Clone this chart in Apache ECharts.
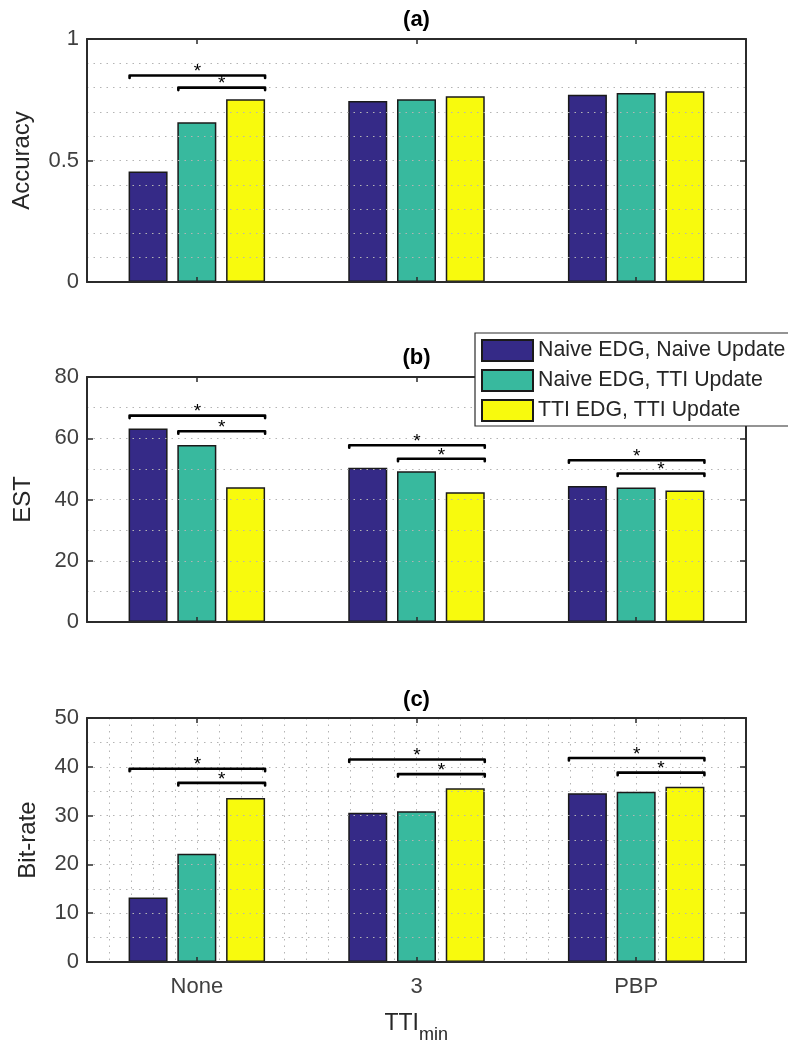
<!DOCTYPE html>
<html>
<head>
<meta charset="utf-8">
<script src="https://cdn.jsdelivr.net/npm/echarts@6/dist/echarts.min.js"></script>
<style>
  html, body { margin: 0; padding: 0; background: #ffffff; }
  #chart { width: 788px; height: 1044px; }
</style>
</head>
<body>
<div id="chart"></div>
<script>
// ---- data ----
const categories = ['None', '3', 'PBP'];
const seriesNames = ['Naive EDG, Naive Update', 'Naive EDG, TTI Update', 'TTI EDG, TTI Update'];

// (a) Accuracy
const accNaiveNaive = [0.455, 0.745, 0.771];
const accNaiveTTI   = [0.657, 0.752, 0.778];
const accTTITTI     = [0.752, 0.764, 0.785];
// (b) EST
const estNaiveNaive = [63.2, 50.4, 44.4];
const estNaiveTTI   = [57.8, 49.2, 43.9];
const estTTITTI     = [44.0, 42.4, 42.9];
// (c) Bit-rate
const bitNaiveNaive = [13.2, 30.6, 34.6];
const bitNaiveTTI   = [22.2, 30.9, 34.9];
const bitTTITTI     = [33.6, 35.6, 35.9];

// significance brackets: [group, fromBar, toBar, level]
const accSig = [[0, 0, 2, 0.85], [0, 1, 2, 0.80]];
const estSig = [[0, 0, 2, 67.4], [0, 1, 2, 62.3], [1, 0, 2, 57.7], [1, 1, 2, 53.3], [2, 0, 2, 52.8], [2, 1, 2, 48.5]];
const bitSig = [[0, 0, 2, 39.6], [0, 1, 2, 36.7], [1, 0, 2, 41.5], [1, 1, 2, 38.5], [2, 0, 2, 41.8], [2, 1, 2, 38.8]];

// y-axis tick labels
const accTicks = [0, 0.5, 1];
const estTicks = [0, 20, 40, 60, 80];
const bitTicks = [0, 10, 20, 30, 40, 50];

// ---- styling ----
const COLORS = ['#352a87', '#38b99e', '#f8fa0d'];
const FONT = '"Liberation Sans", Arial, Helvetica, sans-serif';
const AXIS_COLOR = '#2b2b2b';
const LABEL_COLOR = '#404040';
const BAR_W = 39;
const BAR_GAP = 0.25;
const DOT = { type: [1.5, 5], color: '#b4b4b4', width: 1 };

const panels = [
  { name: 'Accuracy', ticks: accTicks, split: 5, data: [accNaiveNaive, accNaiveTTI, accTTITTI], sig: accSig,
    grid: { left: 87, top: 39, width: 659, height: 243 }, nameGap: 53, xLabels: false, xGrid: false },
  { name: 'EST', ticks: estTicks, split: 2, data: [estNaiveNaive, estNaiveTTI, estTTITTI], sig: estSig,
    grid: { left: 87, top: 377, width: 659, height: 245 }, nameGap: 52, xLabels: false, xGrid: false },
  { name: 'Bit-rate', ticks: bitTicks, split: 2, data: [bitNaiveNaive, bitNaiveTTI, bitTTITTI], sig: bitSig,
    grid: { left: 87, top: 718, width: 659, height: 244 }, nameGap: 47, xLabels: true, xGrid: true }
];

// bracket with a star, spanning from the left edge of one bar to the right edge of another
function bracketItem(params, api) {
  const g = api.value(0), from = api.value(1), to = api.value(2), level = api.value(3);
  const c = api.coord([g, level]);
  const step = BAR_W * (1 + BAR_GAP);
  const x0 = c[0] + (from - 1) * step - BAR_W / 2 + 1;
  const x1 = c[0] + (to - 1) * step + BAR_W / 2;
  const y = c[1];
  return {
    type: 'group',
    children: [
      { type: 'polyline',
        shape: { points: [[x0, y + 2.5], [x0, y], [x1, y], [x1, y + 2.5]] },
        style: { stroke: '#000', lineWidth: 2.6, fill: null, lineJoin: 'round', lineCap: 'round' } },
      { type: 'text',
        style: { text: '*', x: (x0 + x1) / 2, y: y - 13, align: 'center', verticalAlign: 'top',
                 fontSize: 19, fill: '#000', fontFamily: FONT } }
    ]
  };
}

const grid = [], xAxis = [], yAxis = [], series = [];
panels.forEach((p, i) => {
  grid.push(Object.assign({ containLabel: false }, p.grid));
  const maxV = p.ticks[p.ticks.length - 1];
  const step = p.ticks[1] - p.ticks[0];

  // bottom category axis
  const xb = xAxis.length;
  xAxis.push({
    type: 'category', gridIndex: i, data: categories, position: 'bottom',
    axisLine: { onZero: false, lineStyle: { color: AXIS_COLOR, width: 2 } },
    axisTick: { show: true, inside: true, length: 5, alignWithLabel: true, lineStyle: { color: AXIS_COLOR, width: 1.5 } },
    axisLabel: { show: p.xLabels, fontSize: 22, color: LABEL_COLOR, margin: 14, fontFamily: FONT },
    splitLine: { show: false }, z: 3
  });
  // top category axis (box edge)
  xAxis.push({
    type: 'category', gridIndex: i, data: categories, position: 'top',
    axisLine: { onZero: false, lineStyle: { color: AXIS_COLOR, width: 2 } },
    axisTick: { show: true, inside: true, length: 5, alignWithLabel: true, lineStyle: { color: AXIS_COLOR, width: 1.5 } },
    axisLabel: { show: false }, splitLine: { show: false }, z: 3
  });
  if (p.xGrid) {
    // hidden value axis carrying the vertical minor grid
    xAxis.push({
      type: 'value', gridIndex: i, min: -0.5, max: 2.5, interval: 0.1, position: 'bottom',
      axisLine: { show: false, onZero: false }, axisTick: { show: false }, axisLabel: { show: false },
      splitLine: { show: true, lineStyle: DOT }
    });
  }

  const yl = yAxis.length;
  yAxis.push({
    type: 'value', gridIndex: i, min: 0, max: maxV, interval: step, position: 'left',
    name: p.name, nameLocation: 'middle', nameGap: p.nameGap,
    nameTextStyle: { fontSize: 24, color: '#262626', fontFamily: FONT },
    axisLine: { show: true, onZero: false, lineStyle: { color: AXIS_COLOR, width: 2 } },
    axisTick: { show: true, inside: true, length: 6, lineStyle: { color: AXIS_COLOR, width: 1.5 } },
    axisLabel: { fontSize: 22, color: LABEL_COLOR, margin: 8, fontFamily: FONT,
                 formatter: v => String(v) },
    splitLine: { show: true, lineStyle: DOT },
    minorTick: { show: false, splitNumber: p.split },
    minorSplitLine: { show: true, lineStyle: DOT },
    z: 3
  });
  yAxis.push({
    type: 'value', gridIndex: i, min: 0, max: maxV, interval: step, position: 'right',
    axisLine: { show: true, onZero: false, lineStyle: { color: AXIS_COLOR, width: 2 } },
    axisTick: { show: true, inside: true, length: 6, lineStyle: { color: AXIS_COLOR, width: 1.5 } },
    axisLabel: { show: false }, splitLine: { show: false }, z: 3
  });

  p.data.forEach((vals, k) => {
    series.push({
      type: 'bar', name: seriesNames[k], xAxisIndex: xb, yAxisIndex: yl,
      data: vals, barWidth: BAR_W, barGap: (BAR_GAP * 100) + '%',
      itemStyle: { color: COLORS[k], borderColor: '#1a1a1a', borderWidth: 1.5 },
      emphasis: { disabled: true }, z: 2
    });
  });

  series.push({
    type: 'custom', xAxisIndex: xb, yAxisIndex: yl, data: p.sig,
    encode: { x: 0, y: 3 }, renderItem: bracketItem, clip: false, z: 5, silent: true
  });
});

const chart = echarts.init(document.getElementById('chart'), null, { renderer: 'canvas' });
chart.setOption({
  animation: false,
  backgroundColor: '#ffffff',
  textStyle: { fontFamily: FONT },
  grid, xAxis, yAxis, series,
  legend: {
    data: seriesNames, orient: 'vertical', left: 475, top: 333,
    icon: 'rect', itemWidth: 51, itemHeight: 21, itemGap: 7,
    padding: [6, 40, 4, 6],
    backgroundColor: '#ffffff', borderColor: '#2b2b2b', borderWidth: 1.2,
    textStyle: { fontSize: 21.3, color: '#262626', fontFamily: FONT },
    selectedMode: false, z: 10
  },
  graphic: [
    { type: 'text', x: 416.5, y: 20, style: { text: '(a)', align: 'center', verticalAlign: 'middle', font: 'bold 22px ' + FONT, fill: '#000' } },
    { type: 'text', x: 416.5, y: 358, style: { text: '(b)', align: 'center', verticalAlign: 'middle', font: 'bold 22px ' + FONT, fill: '#000' } },
    { type: 'text', x: 416.5, y: 700, style: { text: '(c)', align: 'center', verticalAlign: 'middle', font: 'bold 22px ' + FONT, fill: '#000' } },
    { type: 'text', x: 419, y: 1035, style: { text: 'TTI', align: 'right', verticalAlign: 'bottom', font: '23px ' + FONT, fill: '#262626' } },
    { type: 'text', x: 419, y: 1044, style: { text: 'min', align: 'left', verticalAlign: 'bottom', font: '18px ' + FONT, fill: '#262626' } }
  ]
});
</script>
</body>
</html>
